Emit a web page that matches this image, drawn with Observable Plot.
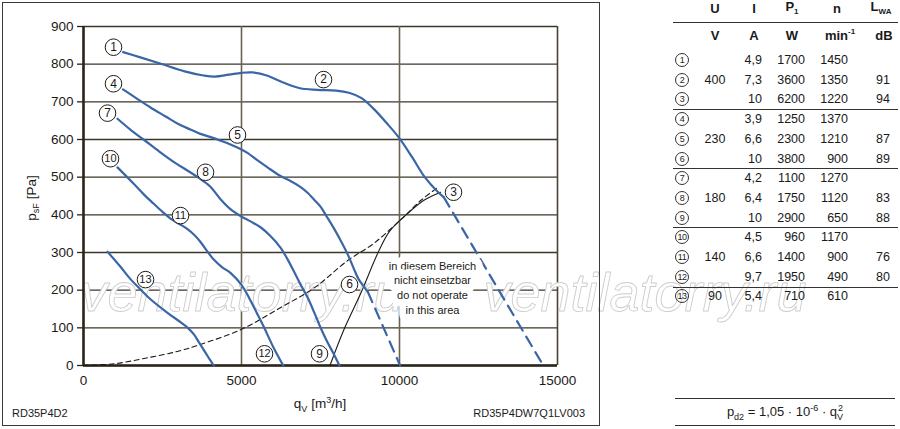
<!DOCTYPE html>
<html><head><meta charset="utf-8">
<script src="https://cdn.jsdelivr.net/npm/d3@7"></script>
<script src="https://cdn.jsdelivr.net/npm/@observablehq/plot@0.6"></script>
<style>
body{margin:0;background:#fff;font-family:"Liberation Sans",Arial,sans-serif;color:#1a1a1a}
#wrap{position:relative;width:900px;height:429px;overflow:hidden;background:#fff}
#chart{position:absolute;left:0;top:0}
.abs{position:absolute;white-space:nowrap;line-height:1}
.c{transform:translate(-50%,-50%)}
.r{transform:translate(-100%,-50%)}
.hl{position:absolute;height:0;border-top:1px solid #333}
.circ{position:absolute;width:12px;height:12px;border:1px solid #333;border-radius:50%;font-size:9px;line-height:12px;text-align:center;transform:translate(-50%,-50%);letter-spacing:-0.5px}
#frame{position:absolute;left:2px;top:2px;width:596px;height:422px;border:1px solid #3a3a3a;pointer-events:none}
</style></head>
<body>
<div id="wrap">
<div id="chart"></div>
<div id="frame"></div>
</div>
<script>
// ---- axis ticks ----
const xTicks = [0, 5000, 10000, 15000];
const yTicks = [0, 100, 200, 300, 400, 500, 600, 700, 800, 900];
const xGrid = [5000, 10000];

// ---- characteristic curves [qV m3/h, psF Pa] ----
const curve400 = [[1250,832],[1800,818],[2450,801],[3200,781],[3800,770],[4150,767],[4600,772],[5000,777],[5350,778],[5800,770],[6300,752],[6850,736],[7400,732],[8000,730],[8400,724],[8800,710],[9200,680],[9600,643],[10000,603],[10400,553],[10800,500],[11200,462],[11400,447]];
const curve400ext = [[11400,447],[14550,0]];
const curve230 = [[1250,733],[1700,708],[2120,685],[2600,661],[3000,641],[3400,626],[3700,615],[4000,607],[4335,597],[4650,587],[4968,575],[5200,564],[5500,545],[5823,526],[6234,503],[6550,490],[6850,475],[7100,458],[7300,440],[7500,422],[7700,395],[7911,366],[8150,330],[8350,297],[8550,258],[8700,230],[8850,212],[9000,195]];
const curve230ext = [[9000,195],[10020,0]];
const curve180 = [[1076,655],[1500,625],[1900,600],[2400,568],[2900,538],[3300,517],[3650,498],[4000,476],[4350,440],[4650,415],[4968,397],[5300,382],[5601,367],[5900,345],[6234,313],[6450,283],[6645,252],[6850,218],[7089,181],[7300,141],[7500,101],[7700,65],[7911,32],[8100,0]];
const curve140 = [[1076,526],[1582,483],[1900,455],[2215,430],[2500,408],[2753,390],[3050,375],[3291,362],[3500,347],[3703,328],[3900,305],[4114,282],[4400,260],[4650,246],[5000,214],[5250,178],[5500,137],[5720,100],[6000,50],[6320,0]];
const curve90 = [[760,302],[1171,262],[1500,228],[1830,200],[2120,176],[2658,140],[3070,115],[3300,100],[3500,82],[3650,62],[3800,42],[3950,22],[4120,0]];
// dynamic pressure curve (dashed) and operating limit (solid black)
const dynCurve = [[0,0],[1000,5],[2000,20],[3000,38],[3700,56],[5000,96],[6200,152],[7300,206],[8350,278],[9200,325],[10100,392],[10700,440],[11250,475]];
const limitCurve = [[7800,0],[8230,93],[8770,191],[9350,305],[9700,358],[10250,403],[10760,438],[11300,460]];

// ---- circled operating point labels ----
const labelIds = [1,2,3,4,5,6,7,8,9,10,11,12,13];
const labelQ = [949,7595,11709,949,4873,8418,760,3861,7468,854,3070,5728,1962];
const labelP = [845,759,460,748,612,215,670,513,31,549,398,31,228];

// ---- annotation / watermark ----
const noteText = "in diesem Bereich\nnicht einsetzbar\ndo not operate\nin this area";
const noteQ = 11044, noteP = 208;
const wmText = "ventilatorry.ru";
const wmQ = [-95, 12658], wmP = [146, 146];

// ---- table ----
const tableU = ["","400","","","230","","","180","","","140","","90"];
const tableI = ["4,9","7,3","10","3,9","6,6","10","4,2","6,4","10","4,5","6,6","9,7","5,4"];
const tableP = ["1700","3600","6200","1250","2300","3800","1100","1750","2900","960","1400","1950","710"];
const tableN = ["1450","1350","1220","1370","1210","900","1270","1120","650","1170","900","490","610"];
const tableL = ["","91","94","","87","89","","83","88","","76","80",""];
const headTop = ["U","I","P<sub style='font-size:8px'>1</sub>","n","L<sub style='font-size:8px'>WA</sub>"];
const headUnit = ["V","A","W","min<sup style='font-size:8px'>-1</sup>","dB"];

const blue = "#3b66a6", ink = "#1c1a16", grid = "#3d3729";

const dots = labelIds.map((id,i)=>({id, q: labelQ[i], p: labelP[i]}));
const wms = wmQ.map((q,i)=>({q, p: wmP[i]}));

const plot = Plot.plot({
  width: 900, height: 429,
  marginLeft: 83, marginRight: 343, marginTop: 26, marginBottom: 64,
  x: {domain: [0, 15000]},
  y: {domain: [0, 900]},
  style: {fontFamily: "'Liberation Sans', Arial, sans-serif", fontSize: "13.5px", color: ink, background: "transparent", overflow: "visible"},
  marks: [
    Plot.ruleY(yTicks, {stroke: grid, strokeWidth: 1.3}),
    Plot.ruleX(xGrid, {stroke: "#6a6252", strokeWidth: 1.6}),
    Plot.ruleX([15000], {stroke: "#4a4334", strokeWidth: 1.6}),
    Plot.text(wms, {x: "q", y: "p", text: () => wmText, textAnchor: "start", lineAnchor: "bottom", fontSize: 54, fontStyle: "italic", fill: "white", stroke: "#cdcdcd", strokeWidth: 0.9, paintOrder: "normal", ariaLabel: "watermark"}),
    Plot.ruleX([0], {stroke: "#2a2418", strokeWidth: 2.6}),
    Plot.ruleY([0], {stroke: "#2a2418", strokeWidth: 2.6}),
    Plot.line(dynCurve, {stroke: ink, strokeWidth: 1.1, strokeDasharray: "5,3.5", curve: "catmull-rom"}),
    Plot.line(limitCurve, {stroke: ink, strokeWidth: 1.1, curve: "catmull-rom"}),
    Plot.line(curve400, {stroke: blue, strokeWidth: 2.2, curve: "catmull-rom"}),
    Plot.line(curve400ext, {stroke: blue, strokeWidth: 2.2, strokeDasharray: "11,7"}),
    Plot.line(curve230, {stroke: blue, strokeWidth: 2.2, curve: "catmull-rom"}),
    Plot.line(curve230ext, {stroke: blue, strokeWidth: 2.2, strokeDasharray: "11,7"}),
    Plot.line(curve180, {stroke: blue, strokeWidth: 2.2, curve: "catmull-rom"}),
    Plot.line(curve140, {stroke: blue, strokeWidth: 2.2, curve: "catmull-rom"}),
    Plot.line(curve90, {stroke: blue, strokeWidth: 2.2, curve: "catmull-rom"}),
    Plot.text([noteText], {x: () => noteQ, y: () => noteP, text: d => d, fontSize: 11, lineHeight: 1.36, fill: ink, stroke: "white", strokeWidth: 14, lineAnchor: "middle"}),
    Plot.dot(dots, {x: "q", y: "p", r: 8.3, fill: "white", stroke: ink, strokeWidth: 1}),
    Plot.text(dots.filter(d => d.id < 10), {x: "q", y: "p", text: d => String(d.id), fontSize: 12, fill: ink}),
    Plot.text(dots.filter(d => d.id >= 10), {x: "q", y: "p", text: d => String(d.id), fontSize: 11, fill: ink, dx: 0}),
    Plot.axisY({ticks: yTicks, tickSize: 6, tickPadding: 4, tickFormat: d => String(d), label: null, stroke: "#2a2418", strokeWidth: 1.3, fontSize: 13.5}),
    Plot.axisX({ticks: xTicks, tickSize: 0, tickPadding: 10, tickFormat: d => String(d), label: null, fontSize: 13.5})
  ]
});
document.getElementById("chart").appendChild(plot);
d3.select(plot).selectAll("g[aria-label=watermark] text").attr("textLength", 327).attr("lengthAdjust", "spacingAndGlyphs");

// ---- HTML text overlays ----
const wrap = document.getElementById("wrap");
function add(html, x, y, cls, style) {
  const d = document.createElement("div");
  d.className = "abs " + (cls || "c");
  d.style.left = x + "px"; d.style.top = y + "px";
  if (style) d.style.cssText += style;
  d.innerHTML = html;
  wrap.appendChild(d);
  return d;
}
function hline(x1, x2, y) {
  const d = document.createElement("div");
  d.className = "hl";
  d.style.left = x1 + "px"; d.style.width = (x2 - x1) + "px"; d.style.top = y + "px";
  wrap.appendChild(d);
}
// axis labels
add("p<sub style='font-size:9px'>sF</sub> [Pa]", 33, 198, "c", "font-size:13.5px;transform:translate(-50%,-50%) rotate(-90deg);");
add("q<sub style='font-size:9px'>V</sub> [m<sup style='font-size:9px'>3</sup>/h]", 320, 405, "c", "font-size:13.5px;");
add("RD35P4D2", 12, 413, "", "font-size:11px;transform:translate(0,-50%);");
add("RD35P4DW7Q1LV003", 585, 413, "r", "font-size:11px;");

// table
const colX = [715, 754, 792, 837, 881];
headTop.forEach((h, i) => add(h, colX[i], 8, "c", "font-size:13px;font-weight:bold;"));
const unitX = [715, 754, 792, 840, 884];
headUnit.forEach((h, i) => add(h, unitX[i], 35, "c", "font-size:13px;font-weight:bold;"));
hline(673, 898, 22);
const rowY = i => 60 + i * 19.7;
labelIds.forEach((id, i) => {
  const y = rowY(i);
  const c = document.createElement("div");
  c.className = "circ"; c.style.left = "682px"; c.style.top = y + "px";
  c.textContent = id; wrap.appendChild(c);
  const st = "font-size:12.5px;";
  if (tableU[i]) add(tableU[i], 715, y, "c", st);
  add(tableI[i], 762, y, "r", st);
  add(tableP[i], 805, y, "r", st);
  add(tableN[i], 848, y, "r", st);
  if (tableL[i]) add(tableL[i], 890, y, "r", st);
  if (i === 2 || i === 5 || i === 8 || i === 11) hline(673, 898, (rowY(i) + rowY(i + 1)) / 2);
});
hline(675, 895, 398);
hline(675, 895, 425);
add("p<sub style='font-size:9px'>d2</sub> = 1,05 · 10<sup style='font-size:9px'>-6</sup> · q<sub style='font-size:9px'>V</sub><sup style='font-size:9px;margin-left:-5px'>2</sup>", 785, 413, "c", "font-size:13px;");
</script>
</body></html>
